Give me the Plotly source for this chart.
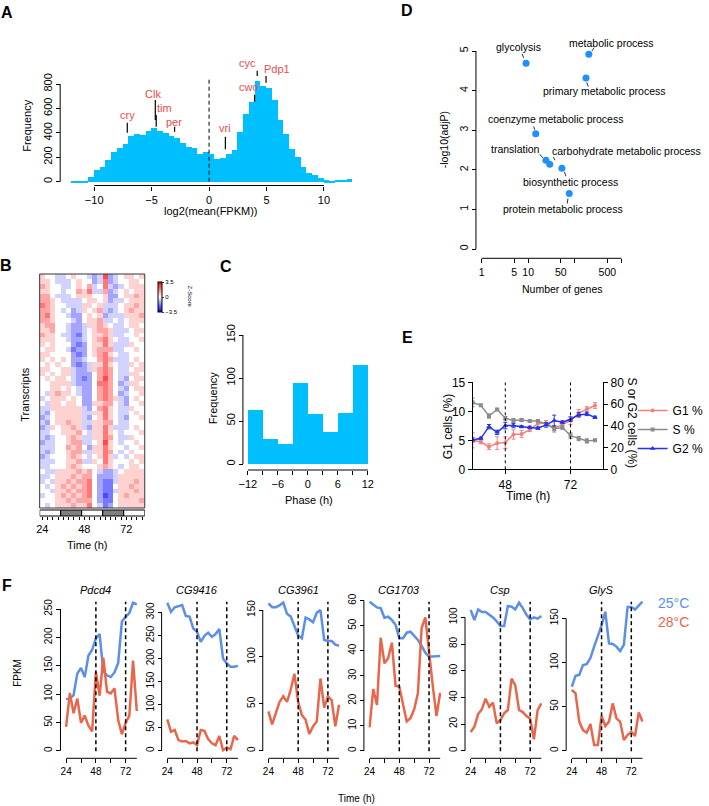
import math
import plotly.graph_objects as go

W, H = 709, 806
def PX(x): return x / W
def PY(y): return 1 - y / H
FONT = "Liberation Sans, Arial, Helvetica, sans-serif"

# ====================== DATA ======================
# Panel A: histogram of log2(mean(FPKM)), bins of 0.5 starting at -12
hist_first_edge = -12.0
hist_bin_width = 0.5
hist_counts = [3, 5, 12, 40, 95, 123, 178, 245, 282, 314, 375, 395, 385, 415, 442,
               418, 398, 380, 365, 320, 285, 282, 228, 245, 228, 190, 195, 230, 262,
               410, 560, 655, 827, 786, 770, 669, 510, 390, 273, 205, 123, 74, 55, 35,
               14, 8, 19, 19, 27]
clock_genes = ["cry", "Clk", "tim", "per", "vri", "cwo", "cyc", "Pdp1"]
clock_gene_x = [-7.12, -4.68, -4.6, -3.0, 1.42, 3.96, 4.19, 4.96]
clock_mark_lo = [401, 505, 450, 410, 265, 655, 865, 810]
clock_mark_hi = [483, 669, 546, 450, 368, 710, 909, 865]
cutoff_x = 0

# Panel B: phase-sorted z-score heatmap (digit d -> z = (d-5)*Z_STEP), columns = time points
heat_times = [24 + 3 * i for i in range(20)]
heat_rows = [
    "65544565543493456656", "66544456553483455665", "76554456574584345666",
    "66554557684473456566", "77544456665563356676", "77654444566563445666",
    "87655444665644456676", "77654534656743456766", "78655433565634446667",
    "77655543566744545666", "67755433466765445665", "66755433456776444566",
    "76654432456676445565", "66655433456786544556", "65655532356686444655",
    "56655423356777445565", "66555532356786544555", "65656533455787444565",
    "56565532346686544656", "66556643346787544566", "65656643335787544665",
    "56566543235797543566", "55666643335887534665", "55665654335787543566",
    "54676654335787534556", "45666565335787643565", "54665665336677543556",
    "44666666435786544655", "43566666446686544565", "34566666435686543556",
    "43566766446677544555", "34656676436686444565", "44556667546686545556",
    "43455676446687544655", "34455677445696545565", "44455767536686554556",
    "43455677446687545655", "34555676545686454566", "44455667446586555656",
    "44555676555676545665", "54466667675433456666", "44566676775333466666",
    "45466767785322466676", "54567676785322566766", "55466767785322466676",
    "45567676785312567666", "55566767775322566667", "54566676685423566666",
]
ld_blocks = ["light", "dark", "light", "dark", "light"]
ld_block_hours = 12
ld_start = 22.5

# Panel C: phase histogram
phase_edges = [-12, -9, -6, -3, 0, 3, 6, 9, 12]
phase_counts = [63, 29, 24, 95, 58, 38, 60, 115]

# Panel D: GO enrichment
go_terms = ["glycolysis", "metabolic process", "primary metabolic process",
            "coenzyme metabolic process", "translation",
            "carbohydrate metabolic process", "biosynthetic process",
            "protein metabolic process"]
go_genes = [9, 200, 174, 14.5, 24, 29, 53, 76]
go_logp = [4.69, 4.92, 4.32, 2.91, 2.24, 2.14, 2.04, 1.40]

# Panel E: cell cycle phases
e_time = [36 + 3 * i for i in range(16)]
g1_pct = [5.0, 4.7, 3.9, 4.5, 4.6, 6.0, 6.1, 6.8, 7.9, 8.0, 7.1, 7.7, 8.4, 9.7, 10.4, 11.0]
g1_err = [1.3, 0.3, 0.5, 1.1, 1.0, 0.8, 0.6, 0.3, 0.5, 0.4, 0.4, 0.7, 0.7, 0.6, 0.4, 0.5]
s_pct = [61.5, 58.8, 49.0, 55.0, 47.0, 44.8, 45.3, 44.3, 44.3, 41.6, 37.3, 38.4, 31.0, 28.3, 26.1, 26.7]
s_err = [4, 1, 2, 1, 1.5, 2, 1.5, 1, 1, 1, 3, 1.5, 2.5, 2, 2, 1]
g2_pct = [27.0, 28.5, 39.2, 34.0, 40.2, 40.2, 39.2, 38.6, 37.7, 40.8, 44.8, 43.2, 46.0, 50.0, 50.9, 47.8]
g2_err = [2, 1, 2, 2, 3, 2, 1, 1, 1, 2, 5, 1, 2, 2, 1.5, 1]

# Panel F: FPKM time courses
f_time = [24 + 3 * i for i in range(20)]
f_genes = ["Pdcd4", "CG9416", "CG3961", "CG1703", "Csp", "GlyS"]
f_25C = [
    [91, 92, 98, 136, 146, 130, 168, 178, 198, 206, 140, 133, 130, 138, 155, 228, 236, 243, 261, 258],
    [321, 301, 311, 314, 316, 292, 291, 265, 258, 236, 249, 256, 247, 253, 264, 200, 189, 182, 182, 184],
    [157, 153, 153, 155, 158, 146, 143, 132, 123, 120, 142, 140, 137, 147, 150, 118, 117, 117, 113, 112],
    [59.6, 58.3, 57.3, 57.0, 53.2, 53.6, 52.3, 50.3, 45.0, 45.0, 47.2, 47.6, 45.9, 44.3, 41.9, 39.2, 37.6, 37.6, 37.6, 37.9],
    [105.5, 98, 106, 104, 104, 102, 100, 97, 93.5, 93.5, 108.5, 108, 106, 111, 107, 102, 98.5, 100, 99, 101],
    [72.5, 85, 86, 97, 98, 105, 118, 130, 142, 157.5, 121.6, 121, 118, 113, 120, 163, 163, 160, 165, 169],
]
f_28C = [
    [42, 102, 66, 92, 49, 62, 44, 34, 139, 97, 164, 104, 101, 110, 54, 29, 49, 62, 159, 70],
    [68, 41, 45, 23, 20, 21, 16, 18, 12, 45, 43, 25, 16, 12, 32, 1, 7, 3, 32, 23],
    [42, 28, 40, 52, 58, 52, 65, 82, 52, 38, 33, 18, 26, 31, 77, 46, 58, 54, 26, 49],
    [9.3, 24.7, 18.3, 45.2, 35.0, 37.0, 43.2, 26.0, 25.6, 19.0, 11.7, 13.0, 16.5, 23.0, 49.0, 53.3, 39.0, 26.0, 13.9, 23.2],
    [14, 18, 27.5, 31, 39, 33, 36, 20.5, 23, 28, 30.5, 54, 49, 30.5, 29, 26, 24, 8.5, 30.5, 35.5],
    [68.8, 65, 33, 23.4, 20.4, 30.2, 6.4, 6.4, 39.3, 28, 33, 53.6, 36.6, 33, 12, 17.8, 21.5, 16.6, 43.4, 33],
]
f_yticks = [list(range(0, 251, 50)), list(range(0, 301, 50)), [0, 50, 100, 150],
            list(range(0, 61, 10)), list(range(0, 101, 20)), [0, 50, 100, 150]]
f_px_per_unit = [0.5668, 0.4611, 0.9378, 2.5, 1.3333, 0.8822]

# ====================== STYLE ======================
SKY = "#00BFFF"
DODGER = "#1E90FF"
GENE_RED = "#EE4B4B"
F_BLUE = "#5C8FE6"
F_RED = "#E8674A"
G1_COL = "#F08080"
S_COL = "#8C8C8C"
G2_COL = "#2433E6"
Z_STEP = 0.62

fig = go.Figure()
shapes = []
ann = []

def tfont(size, color="black"):
    return dict(family=FONT, size=size, color=color)

def r_x(domain_px, rng, pos_py, tickvals, ticktext, size, ticklen=4):
    return dict(domain=[PX(domain_px[0]), PX(domain_px[1])], range=rng, anchor="free",
                position=PY(pos_py), showline=False, zeroline=False, showgrid=False,
                automargin=False, ticks="outside", ticklen=ticklen, tickwidth=1, tickcolor="black",
                tickvals=tickvals, ticktext=ticktext, tickfont=tfont(size))

def r_y(domain_py, rng, pos_px, tickvals, size, ticklen=4):
    return dict(domain=[PY(domain_py[0]), PY(domain_py[1])], range=rng, anchor="free",
                position=PX(pos_px), showline=False, zeroline=False, showgrid=False,
                automargin=False, ticks="outside", ticklen=ticklen, tickwidth=1, tickcolor="black",
                tickvals=tickvals, tickangle=-90, tickfont=tfont(size))

def hline_axis(xref, x0, x1, ypix):
    shapes.append(dict(type="line", xref=xref, yref="paper", x0=x0, x1=x1,
                       y0=PY(ypix), y1=PY(ypix), line=dict(color="black", width=1)))

def vline_axis(yref, y0, y1, xpix):
    shapes.append(dict(type="line", xref="paper", yref=yref, x0=PX(xpix), x1=PX(xpix),
                       y0=y0, y1=y1, line=dict(color="black", width=1)))

def text(x, y, s, size, color="black", angle=0, xanchor="center", bold=False, italic=False):
    if bold:
        s = "<b>" + s + "</b>"
    if italic:
        s = "<i>" + s + "</i>"
    ann.append(dict(x=PX(x), y=PY(y), xref="paper", yref="paper", text=s, showarrow=False,
                    font=tfont(size, color), textangle=angle, xanchor=xanchor, yanchor="middle"))

# ---------------- Panel A ----------------
centers = [hist_first_edge + hist_bin_width * (i + 0.5) for i in range(len(hist_counts))]
fig.add_trace(go.Bar(x=centers, y=hist_counts, width=hist_bin_width, marker=dict(color=SKY, line=dict(width=0)),
                     xaxis="x", yaxis="y", showlegend=False, hoverinfo="skip"))
seg_x, seg_y = [], []
for gx, lo, hi in zip(clock_gene_x, clock_mark_lo, clock_mark_hi):
    seg_x += [gx, gx, None]
    seg_y += [lo, hi, None]
fig.add_trace(go.Scatter(x=seg_x, y=seg_y, mode="lines", line=dict(color="black", width=1.2),
                         xaxis="x", yaxis="y", showlegend=False, hoverinfo="skip"))
lab_dx = [0.0, -0.2, 0.75, -0.04, -0.05, -0.52, -0.87, 0.95]
lab_dy = [63, 50, 54, 41, 74, 68, 60, 55]
for g, gx, hi, dx, dy in zip(clock_genes, clock_gene_x, clock_mark_hi, lab_dx, lab_dy):
    ann.append(dict(x=gx + dx, y=hi + dy, xref="x", yref="y", text=g, showarrow=False,
                    font=tfont(11, GENE_RED), xanchor="center", yanchor="middle"))
fig.add_trace(go.Scatter(x=[cutoff_x, cutoff_x], y=[0, 860], mode="lines",
                         line=dict(color="black", width=1, dash="4px,3px"),
                         xaxis="x", yaxis="y", showlegend=False, hoverinfo="skip"))
a_x0, a_x1 = -12.6, 12.7
a_slope = 11.585
a_zero = 210.85
lay = {}
lay["xaxis"] = r_x([a_zero + a_slope * a_x0, a_zero + a_slope * a_x1], [a_x0, a_x1], 185.5,
                   [-10, -5, 0, 5, 10], ["\u221210", "\u22125", "0", "5", "10"], 11)
lay["yaxis"] = r_y([181.7 + 33 * 0.12208, 181.7 - 1000 * 0.12208], [-33, 1000], 60.7,
                   [0, 200, 400, 600, 800], 11)
hline_axis("x", -10, 10, 185.5)
vline_axis("y", 0, 800, 60.7)
text(27, 126, "Frequency", 11, angle=-90)
text(213, 211, "log2(mean(FPKM))", 11)

# ---------------- Panel B ----------------
zmat = [[(int(c) - 5) * Z_STEP for c in row] for row in heat_rows]
fig.add_trace(go.Heatmap(z=zmat, x=heat_times, y=list(range(len(heat_rows))),
                         colorscale=[[0, "#0000FF"], [0.5, "#FFFFFF"], [1, "#FF0000"]],
                         zmin=-3.5, zmax=3.5, xaxis="x2", yaxis="y2", hoverinfo="skip",
                         colorbar=dict(x=PX(159), xanchor="left", y=PY(282), yanchor="top",
                                       len=30, lenmode="pixels", thickness=4, thicknessmode="pixels",
                                       tickvals=[-3.5, 0, 3.5], ticktext=["\u22123.5", "0", "3.5"],
                                       tickfont=tfont(6), ticks="outside", ticklen=2,
                                       outlinewidth=1, outlinecolor="black", xpad=0, ypad=0,
                                       title=dict(text=""))))
lay["xaxis2"] = r_x([40, 146], [22.5, 82.5], 516, heat_times,
                    [str(t) if t in (24, 48, 72) else "" for t in heat_times], 11, ticklen=3)
lay["yaxis2"] = dict(domain=[PY(508), PY(274)], range=[len(heat_rows) - 0.5, -0.5], anchor="x2",
                     automargin=False, showticklabels=False, ticks="", showgrid=False,
                     zeroline=False, showline=False)
shapes.append(dict(type="rect", xref="paper", yref="paper", x0=PX(40), x1=PX(146), y0=PY(508), y1=PY(274),
                   line=dict(color="#333333", width=1)))
for i, st in enumerate(ld_blocks):
    shapes.append(dict(type="rect", xref="x2", yref="paper", x0=ld_start + i * ld_block_hours,
                       x1=ld_start + (i + 1) * ld_block_hours, y0=PY(516), y1=PY(510),
                       fillcolor="white" if st == "light" else "#808080",
                       line=dict(color="black", width=1)))
text(192, 297, "Z-Score", 6, angle=90)
text(25, 395, "Transcripts", 11, angle=-90)
text(88, 545, "Time (h)", 11)

# ---------------- Panel C ----------------
pc = [(a + b) / 2 for a, b in zip(phase_edges[:-1], phase_edges[1:])]
pw = [b - a for a, b in zip(phase_edges[:-1], phase_edges[1:])]
fig.add_trace(go.Bar(x=pc, y=phase_counts, width=pw, marker=dict(color=SKY, line=dict(width=0)),
                     xaxis="x3", yaxis="y3", showlegend=False, hoverinfo="skip"))
c_slope = 121 / 24
lay["xaxis3"] = r_x([310.5 - 13 * c_slope, 310.5 + 13 * c_slope], [-13, 13], 470,
                    list(range(-12, 13, 3)),
                    ["\u221212", "", "\u22126", "", "0", "", "6", "", "12"], 11)
lay["yaxis3"] = r_y([464 + 6 * 0.86, 464 - 155 * 0.86], [-6, 155], 245, [0, 50, 100, 150], 11)
hline_axis("x3", -12, 12, 470)
vline_axis("y3", 0, 150, 245)
text(215, 398, "Frequency", 11, angle=-90)
text(312, 500, "Phase (h)", 11)

# ---------------- Panel D ----------------
lx = [math.log10(g) for g in go_genes]
fig.add_trace(go.Scatter(x=lx, y=go_logp, mode="markers", marker=dict(color=DODGER, size=7),
                         xaxis="x4", yaxis="y4", showlegend=False, hoverinfo="skip"))
d_xs, d_ys = 47.0, 39.6   # px per unit
d_lab = [(-7.4, -16), (22.7, -11.6), (18.3, 13.4), (19.7, -14.3), (-30.7, -11.7),
         (77, -13.3), (8.3, 14), (-6.7, 15.7)]
d_lead = [(-4, -9.4, -2.4, -5.4), (3.3, -3.3, 5.3, -6.6), (0.7, 4.4, 2.3, 8.7),
          (-2, -7.3, -1, -4), (-6.4, -6, -3, -2.7), (3.6, -7.3, 5.3, -4),
          (2.6, 3.7, 4, 8), (-1.3, 5, -2, 10)]
lead_x, lead_y = [], []
for t, x, y, (ox, oy), (a0, b0, a1, b1) in zip(go_terms, lx, go_logp, d_lab, d_lead):
    ann.append(dict(x=x + ox / d_xs, y=y - oy / d_ys, xref="x4", yref="y4", text=t, showarrow=False,
                    font=tfont(10.5), xanchor="center", yanchor="middle"))
    lead_x += [x + a0 / d_xs, x + a1 / d_xs, None]
    lead_y += [y - b0 / d_ys, y - b1 / d_ys, None]
fig.add_trace(go.Scatter(x=lead_x, y=lead_y, mode="lines", line=dict(color="black", width=0.8),
                         xaxis="x4", yaxis="y4", showlegend=False, hoverinfo="skip"))
d_ticks = [1, 5, 10, 50, 100, 500, 1000]
lay["xaxis4"] = r_x([485.7 - 0.2 * d_xs, 485.7 + 3.2 * d_xs], [-0.2, 3.2], 258.3,
                    [math.log10(v) for v in d_ticks],
                    [str(v) if v not in (100, 1000) else "" for v in d_ticks], 10.5)
lay["yaxis4"] = r_y([249 + 0.25 * d_ys, 249 - 5.4 * d_ys], [-0.25, 5.4], 480, [0, 1, 2, 3, 4, 5], 10.5)
hline_axis("x4", 0, 3, 258.3)
vline_axis("y4", 0, 5, 480)
text(448, 140, "-log10(adjP)", 10.5, angle=-90)
text(567, 289, "Number of genes", 10.5)

# ---------------- Panel E ----------------
fig.add_trace(go.Scatter(x=e_time, y=g1_pct, name="G1 %", mode="lines+markers",
                         line=dict(color=G1_COL, width=1.5), marker=dict(symbol="circle", size=4, color=G1_COL),
                         error_y=dict(type="data", array=g1_err, color=G1_COL, thickness=1, width=2),
                         xaxis="x5", yaxis="y5"))
fig.add_trace(go.Scatter(x=e_time, y=s_pct, name="S %", mode="lines+markers",
                         line=dict(color=S_COL, width=1.5), marker=dict(symbol="square", size=4, color=S_COL),
                         error_y=dict(type="data", array=s_err, color=S_COL, thickness=1, width=2),
                         xaxis="x5", yaxis="y6"))
fig.add_trace(go.Scatter(x=e_time, y=g2_pct, name="G2 %", mode="lines+markers",
                         line=dict(color=G2_COL, width=1.5), marker=dict(symbol="triangle-up", size=5, color=G2_COL),
                         error_y=dict(type="data", array=g2_err, color=G2_COL, thickness=1, width=2),
                         xaxis="x5", yaxis="y6"))
e_axis_common = dict(showline=True, linecolor="black", linewidth=1, ticks="outside", ticklen=4,
                     tickcolor="black", tickfont=tfont(12), showgrid=False, zeroline=False, automargin=False)
lay["xaxis5"] = dict(domain=[PX(476.7), PX(608.3)], range=[36, 84], anchor="y5",
                     tickvals=[48, 72], **e_axis_common)
lay["yaxis5"] = dict(domain=[PY(469.3), PY(382.3)], range=[0, 15], anchor="x5",
                     tickvals=[0, 5, 10, 15], **e_axis_common)
lay["yaxis6"] = dict(overlaying="y5", side="right", range=[0, 80], anchor="x5",
                     tickvals=[0, 20, 40, 60, 80], **e_axis_common)
for t in (48, 72):
    shapes.append(dict(type="line", xref="x5", yref="y5", x0=t, x1=t, y0=0, y1=15,
                       line=dict(color="black", width=1, dash="3px,3px")))
text(452, 427, "G1 cells (%)", 12, angle=-90)
text(637, 423, "S or G2 cells (%)", 12, angle=90)
text(533, 496, "Time (h)", 12)

# ---------------- Panel F ----------------
for k in range(6):
    p24 = 66.7 + 102 * k
    xa = "xaxis%d" % (7 + k)
    ya = "yaxis%d" % (7 + k)
    xr = "x%d" % (7 + k)
    yr = "y%d" % (7 + k)
    s = f_px_per_unit[k]
    fig.add_trace(go.Scatter(x=f_time, y=f_25C[k], mode="lines", line=dict(color=F_BLUE, width=2.5),
                             xaxis=xr, yaxis=yr, showlegend=False, hoverinfo="skip"))
    fig.add_trace(go.Scatter(x=f_time, y=f_28C[k], mode="lines", line=dict(color=F_RED, width=2.5),
                             xaxis=xr, yaxis=yr, showlegend=False, hoverinfo="skip"))
    lay[xa] = r_x([p24 - 1.25, p24 + 72.5], [23, 82], 758.3, [24, 36, 48, 60, 72],
                  ["24", "", "48", "", "72"], 10)
    lay[ya] = r_y([756, 597], [(750.7 - 756) / s, (750.7 - 597) / s], p24 - 5.7, f_yticks[k], 10)
    hline_axis(xr, 24, 81, 758.3)
    vline_axis(yr, f_yticks[k][0], f_yticks[k][-1], p24 - 5.7)
    for t in (48, 72):
        shapes.append(dict(type="line", xref=xr, yref=yr + " domain", x0=t, x1=t, y0=0.03, y1=0.97,
                           line=dict(color="black", width=1.5, dash="4px,3px")))
    text(p24 + 30, 590, f_genes[k], 11, italic=True)
text(662, 603, "25\u00b0C", 14, color=F_BLUE, xanchor="left")
text(662, 622, "28\u00b0C", 14, color=F_RED, xanchor="left")
text(17, 673, "FPKM", 10, angle=-90)
text(360, 798, "Time (h)", 10)

# ---------------- Panel letters ----------------
for L, x, y in [("A", 7.5, 12.5), ("D", 410.5, 11), ("B", 6, 265), ("C", 228, 266),
                ("E", 411, 337.5), ("F", 7.5, 585.5)]:
    text(x, y, L, 16, bold=True)

fig.update_layout(template="none", width=W, height=H, margin=dict(l=0, r=0, t=0, b=0, pad=0),
                  autosize=False, paper_bgcolor="white", plot_bgcolor="rgba(0,0,0,0)", bargap=0,
                  font=tfont(11), shapes=shapes, annotations=ann,
                  legend=dict(x=PX(638), y=PY(396), xanchor="left", yanchor="top",
                              font=tfont(12), bgcolor="rgba(0,0,0,0)", tracegroupgap=0,
                              itemwidth=30),
                  **lay)
fig.write_html("out.html", config={"displayModeBar": False},
               post_script="document.body.style.margin='0px';document.body.style.overflow='hidden';")
